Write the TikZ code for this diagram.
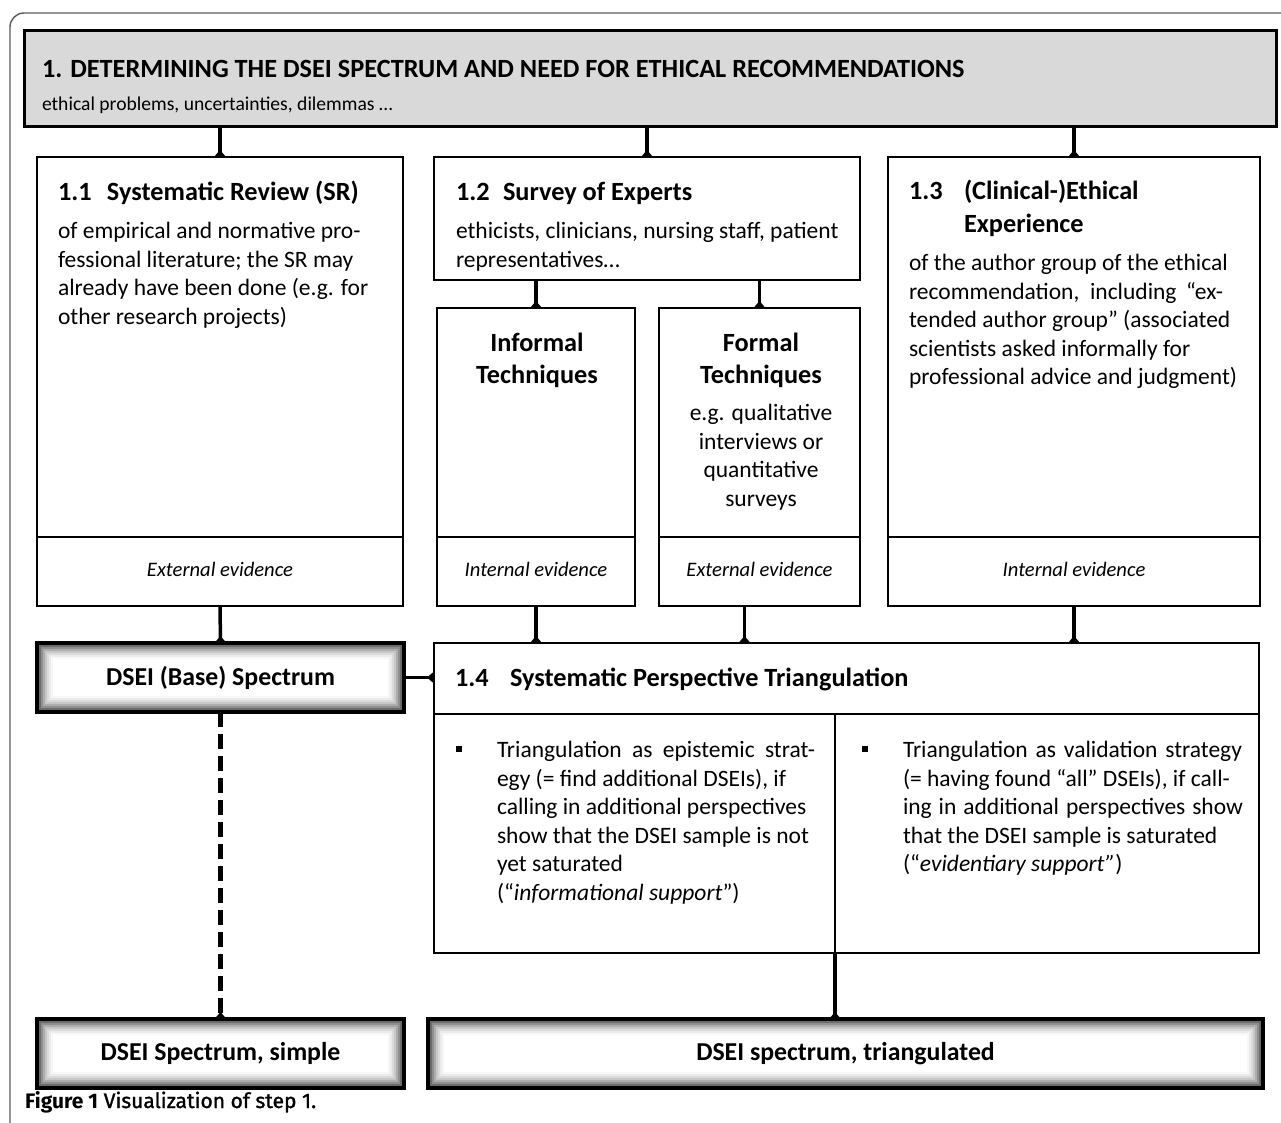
\documentclass[tikz,border=0pt]{standalone}
\usepackage{fontspec}
\setmainfont{Carlito}
\newfontfamily\capfont{Fira Sans}
\font\capmedfont="Fira Sans:embolden=1.3" at 21pt
\usetikzlibrary{arrows.meta,backgrounds}

\definecolor{hdrgray}{HTML}{D9D9D9}
\definecolor{framegray}{HTML}{5A5A5A}

\newcommand\bodyfont{\fontsize{23.5}{28.5}\selectfont}
\newcommand\headfont{\fontsize{26.3}{31.5}\selectfont\bfseries}
\newcommand\subfont{\fontsize{19.6}{24}\selectfont}
\newcommand\evfont{\fontsize{20.6}{24}\selectfont\itshape}

% box placed by its top-left and bottom-right corners (pixel-like units)
\newcommand\placebox[7][]{%
  \pgfmathsetmacro\boxw{#5-#3}%
  \pgfmathsetmacro\boxh{#6-#4}%
  \node[box, #1, anchor=north west, minimum width=\boxw pt, minimum height=\boxh pt] (#2) at (#3,#4) {#7};%
}

% soft dark rim on the inside of the result boxes
\newcommand\innerglow[1]{%
  \foreach \d/\c in {3/58,5/44,7/32,9/22,11/14,13/8,15/3}{%
    \draw[line width=2.1pt, black!\c] ([xshift=\d pt,yshift=-\d pt]#1.north west) rectangle ([xshift=-\d pt,yshift=\d pt]#1.south east);}%
  \draw[line width=4pt] (#1.north west) rectangle (#1.south east);%
}

\tikzset{
  box/.style={draw, line width=2.6pt, fill=white, inner sep=0pt, outer sep=0pt},
  evcell/.style={line width=2pt, font=\evfont, text height=14pt, text depth=4pt},
  result/.style={font=\fontsize{25.8}{30}\selectfont\bfseries, line width=4pt},
  txt/.style={inner sep=0pt, outer sep=0pt, align=left, anchor=north west, font=\bodyfont},
  ctxt/.style={txt, align=center, anchor=north},
  conn/.style={line width=3.5pt, -{Diamond[length=14pt,width=12pt]}, shorten >=-7pt},
  dashconn/.style={conn, line width=5.5pt, dash pattern=on 15pt off 7pt},
}

\begin{document}
\begin{tikzpicture}[x=1pt,y=-1pt]
\useasboundingbox (0,0) rectangle (1281,1123);
\clip (0,0) rectangle (1281,1123);

% outer frame of the figure
\draw[framegray, line width=1.4pt, rounded corners=14pt] (10,13) rectangle (1320,1160);

% header
\placebox[fill=hdrgray, line width=3pt]{hdr}{24}{31}{1276}{127}{}
\node[txt] (ttl) at (42,58) {\strut{\headfont 1. DETERMINING THE DSEI SPECTRUM AND NEED FOR ETHICAL RECOMMENDATIONS}\\[4pt]
{\subfont ethical problems, uncertainties, dilemmas …}};

% sources
\placebox{b11}{37}{157}{403}{606}{}
\placebox{b12}{434}{157}{860}{280}{}
\placebox{inf}{437}{308}{635}{606}{}
\placebox{frm}{659}{308}{860}{606}{}
\placebox{b13}{888}{157}{1260}{606}{}

\placebox[evcell]{ev11}{37}{537}{403}{606}{External evidence}
\placebox[evcell]{evi}{437}{537}{635}{606}{Internal evidence}
\placebox[evcell]{evf}{659}{537}{860}{606}{External evidence}
\placebox[evcell]{ev13}{888}{537}{1260}{606}{Internal evidence}

\node[txt] (t11) at (58,181) {\strut{\headfont\makebox[49pt][l]{1.1}Systematic Review (SR)}\\[9.5pt]
of empirical and normative pro-\\
fessional literature; the SR may\\
already have been done (e.g. for\\
other research projects)};

\node[txt] (t12) at (456,181) {\strut{\headfont\makebox[47pt][l]{1.2}Survey of Experts}\\[9.5pt]
ethicists, clinicians, nursing staff, patient\\
representatives…};

\node[txt] (t13) at (909,180) {\strut{\headfont\makebox[55pt][l]{1.3}(Clinical-)Ethical}\\[4.5pt]
\hspace*{55pt}{\headfont Experience}\\[9.5pt]
of the author group of the ethical\\
\makebox[314pt][s]{recommendation, including “ex-}\\
tended author group” (associated\\
scientists asked informally for\\
professional advice and judgment)};

\node[ctxt] (tinf) at (537,332) {\strut{\headfont Informal}\\[3pt]{\headfont Techniques}};
\node[ctxt] (tfrm) at (761,332) {\strut{\headfont Formal}\\[3pt]{\headfont Techniques}\\[9pt]
e.g. qualitative\\ interviews or\\ quantitative\\ surveys};

% triangulation
\placebox{t14}{434}{643}{1259}{714}{}
\placebox{lft}{434}{714}{835}{953}{}
\placebox{rgt}{835}{714}{1259}{953}{}

\node[txt] (h14) at (455,667) {\strut{\headfont\makebox[55pt][l]{1.4}Systematic Perspective Triangulation}};

\node[txt] (tl) at (497,738) {\strut\llap{\raisebox{6pt}{\rule{6pt}{6pt}}\hspace{35pt}}\makebox[318pt][s]{Triangulation as epistemic strat-}\\
egy (= find additional DSEIs), if\\
calling in additional perspectives\\
show that the DSEI sample is not\\
yet saturated\\
(“\textit{informational support}”)};

\node[txt] (tr) at (903,738) {\strut\llap{\raisebox{6pt}{\rule{6pt}{6pt}}\hspace{35pt}}\makebox[339pt][s]{Triangulation as validation strategy}\\
(= having found “all” DSEIs), if call-\\
\makebox[340pt][s]{ing in additional perspectives show}\\
that the DSEI sample is saturated\\
(“\textit{evidentiary support”})};

% results
\placebox[result]{base}{37}{643}{404}{712}{DSEI (Base) Spectrum}
\innerglow{base}
\placebox[result]{simple}{37}{1019}{404}{1088}{DSEI Spectrum, simple}
\innerglow{simple}
\placebox[result]{tri}{428}{1019}{1263}{1088}{DSEI spectrum, triangulated}
\innerglow{tri}

% connectors
\coordinate (frmout) at ([xshift=-15pt]frm.south);
\begin{scope}[on background layer]
\draw[conn] (hdr.south -| b11.north) -- (b11.north);
\draw[conn] (hdr.south -| b12.north) -- (b12.north);
\draw[conn] (hdr.south -| b13.north) -- (b13.north);
\draw[conn] (b12.south -| inf.north) -- (inf.north);
\draw[conn] (b12.south -| frm.north) -- (frm.north);
\draw[conn] (b11.south) -- (base.north);
\draw[conn] (inf.south) -- (inf.south |- t14.north);
\draw[conn] (frmout) -- (frmout |- t14.north);
\draw[conn] (b13.south) -- (b13.south |- t14.north);
\draw[conn] (base.east) -- (base.east -| t14.west);
\draw[dashconn] (base.south) -- (simple.north);
\draw[conn] (lft.south east) -- (lft.south east |- tri.north);
\end{scope}

% caption
\node[anchor=base west, inner sep=0pt, font=\capfont\fontsize{21}{24}\selectfont] (cap) at (25,1108)
  {{\bfseries Figure 1} {\capmedfont Visualization of step 1.}};
\end{tikzpicture}
\end{document}
